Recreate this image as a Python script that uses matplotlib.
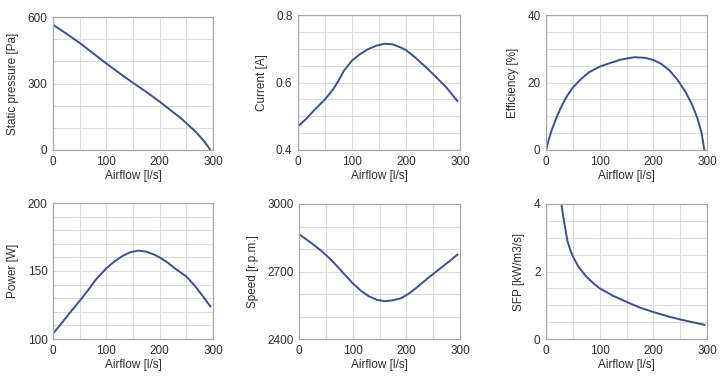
import matplotlib.pyplot as plt
import numpy as np

plt.rcParams['font.family'] = ['Liberation Sans', 'DejaVu Sans']

# values
press_x = [0, 25, 50, 75, 100, 125, 150, 175, 200, 225, 240, 255, 265, 275, 283, 290, 295]
press_y = [565, 525, 483, 437, 390, 346, 303, 262, 218, 171, 143, 110, 88, 62, 40, 18, 0]

curr_x = [0, 15, 30, 50, 65, 75, 85, 100, 115, 130, 145, 160, 175, 190, 200, 215, 235, 250, 275, 295]
curr_y = [0.470, 0.492, 0.518, 0.550, 0.580, 0.605, 0.635, 0.665, 0.684, 0.699, 0.709, 0.715,
          0.713, 0.704, 0.696, 0.677, 0.648, 0.625, 0.585, 0.545]

eff_x = [0, 5, 10, 20, 30, 40, 50, 65, 80, 100, 120, 140, 165, 185, 200, 215, 230, 245, 260, 272, 282, 290, 295]
eff_y = [0, 3, 5.6, 9.8, 13.3, 16.2, 18.5, 21, 23, 24.7, 25.8, 26.8, 27.5, 27.3, 26.7, 25.5, 23.6,
         20.8, 17.2, 13.5, 9.5, 5, 0]

pow_x = [0, 15, 30, 50, 65, 80, 100, 115, 130, 145, 160, 175, 190, 200, 215, 230, 250, 265, 280, 295]
pow_y = [104, 111, 118.5, 128, 135.5, 143.5, 152, 157, 161, 163.8, 165, 164.2, 162, 160, 156.2,
         151.5, 146, 139.5, 132, 124]

spd_x = [0, 20, 40, 60, 80, 100, 115, 130, 145, 160, 175, 190, 205, 220, 240, 260, 280, 295]
spd_y = [2866, 2832, 2795, 2752, 2700, 2648, 2615, 2590, 2574, 2568, 2572, 2581, 2602, 2630,
         2670, 2708, 2745, 2775]

sfp_x = [25, 30, 35, 40, 45, 50, 60, 75, 90, 100, 125, 150, 175, 200, 225, 250, 275, 295]
sfp_y = [4.6, 3.85, 3.35, 2.9, 2.65, 2.45, 2.15, 1.85, 1.63, 1.5, 1.28, 1.1, 0.93, 0.80, 0.68, 0.58, 0.49, 0.42]

W, H = 725, 376
fig = plt.figure(figsize=(W / 100, H / 100), dpi=100)

panels = [
    # (left, top, right, bottom) in px, data, ylabel, ylim, yticks, grid step
    ((53, 17, 213, 150), press_x, press_y, 'Static pressure [Pa]', (0, 600), [0, 300, 600], 100),
    ((298, 15, 460, 150), curr_x, curr_y, 'Current [A]', (0.4, 0.8), [0.4, 0.6, 0.8], 0.05),
    ((546, 15, 707, 150), eff_x, eff_y, 'Efficiency [%]', (0, 40), [0, 20, 40], 5),
    ((53, 203, 213, 339), pow_x, pow_y, 'Power [W]', (100, 200), [100, 150, 200], 10),
    ((299, 204, 460, 339), spd_x, spd_y, 'Speed [r.p.m.]', (2400, 3000), [2400, 2700, 3000], 100),
    ((546, 204, 707, 339), sfp_x, sfp_y, 'SFP [kW/m3/s]', (0, 4), [0, 2, 4], 0.5),
]

for (l, t, r, b), xs, ys, lab, ylim, yt, step in panels:
    ax = fig.add_axes([l / W, 1 - b / H, (r - l) / W, (b - t) / H])
    ax.plot(xs, ys, color='#3d5280', lw=1.4, solid_joinstyle='round')
    ax.set_xlim(0, 300)
    ax.set_ylim(*ylim)
    ax.set_xticks([0, 100, 200, 300])
    ax.set_xticks(np.arange(0, 301, 50), minor=True)
    ax.set_yticks(yt)
    ax.set_yticks(np.arange(ylim[0], ylim[1] + step / 2, step), minor=True)
    ax.set_yticklabels(['%g' % v for v in yt])
    ax.grid(True, which='both', color='#dcdcdc', lw=0.8)
    ax.set_axisbelow(True)
    ax.tick_params(which='both', length=0, labelsize=8.5, colors='#2e2e2e', pad=4)
    for s in ax.spines.values():
        s.set_color('#a8a8a8')
        s.set_linewidth(0.9)
    ax.set_xlabel('Airflow [l/s]', fontsize=8.5, color='#2e2e2e', labelpad=2)
    ax.set_ylabel(lab, fontsize=8.5, color='#2e2e2e', labelpad=6)

plt.savefig('out.png', dpi=100)
